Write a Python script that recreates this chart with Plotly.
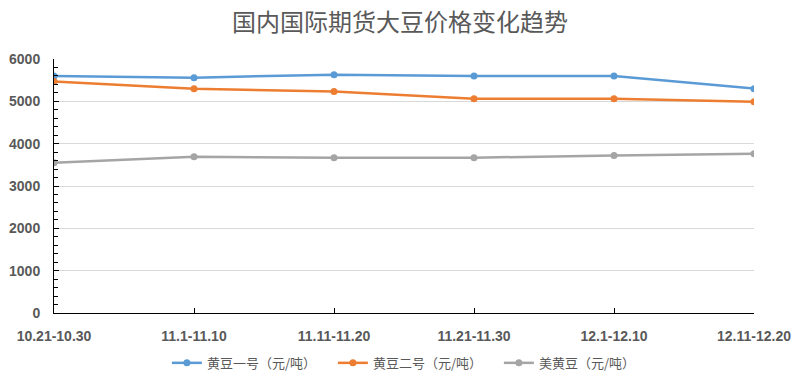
import plotly.graph_objects as go

categories = ["10.21-10.30", "11.1-11.10", "11.11-11.20", "11.21-11.30", "12.1-12.10", "12.11-12.20"]
soy1 = [5600, 5560, 5630, 5600, 5600, 5300]
soy2 = [5470, 5300, 5230, 5060, 5060, 4990]
us_soy = [3550, 3690, 3670, 3670, 3720, 3760]
names = ["黄豆一号（元/吨）", "黄豆二号（元/吨）", "美黄豆（元/吨）"]
colors = ["#5b9bd5", "#ed7d31", "#a5a5a5"]

font_cjk = "Noto Sans CJK SC, Noto Sans, sans-serif"
tick_font = dict(family="Liberation Sans, Arial", size=14, color="#595959", weight="bold")
xs = list(range(len(categories)))

fig = go.Figure()
for vals, name, c in zip([soy1, soy2, us_soy], names, colors):
    fig.add_trace(go.Scatter(
        x=xs, y=vals, name=name, mode="lines+markers",
        line=dict(color=c, width=2.5),
        marker=dict(color=c, size=7),
    ))

fig.update_layout(
    width=800, height=380,
    paper_bgcolor="white", plot_bgcolor="white",
    margin=dict(l=54, r=46, t=59, b=67),
    title=dict(text="国内国际期货大豆价格变化趋势", x=0.5, xanchor="center",
               y=0.94, yanchor="middle",
               font=dict(family=font_cjk, size=24, color="#595959")),
    showlegend=True,
    legend=dict(orientation="h", x=0.517, xanchor="center",
                yref="container", y=0.045, yanchor="middle",
                font=dict(family=font_cjk, size=13, color="#595959"),
                itemwidth=30, tracegroupgap=0,
                entrywidth=121, entrywidthmode="pixels"),
    xaxis=dict(
        range=[0, 5], tickvals=xs, ticktext=categories, automargin=False,
        showgrid=False, showline=True, linecolor="black", linewidth=1,
        ticks="inside", ticklen=5, tickcolor="black", ticklabelstandoff=10,
        tickfont=tick_font, zeroline=False,
    ),
    yaxis=dict(
        range=[0, 6000], dtick=1000, showgrid=True, gridcolor="#d9d9d9", gridwidth=1,
        showline=True, linecolor="black", linewidth=1, automargin=False,
        ticks="inside", ticklen=5, tickcolor="black", ticklabelstandoff=10,
        minor=dict(dtick=200, ticks="inside", ticklen=4, tickcolor="black", showgrid=False),
        tickfont=tick_font, zeroline=False,
    ),
)

fig.write_html("out.html", config={"displayModeBar": False},
               post_script="document.body.style.margin='0';document.body.style.overflow='hidden';")
